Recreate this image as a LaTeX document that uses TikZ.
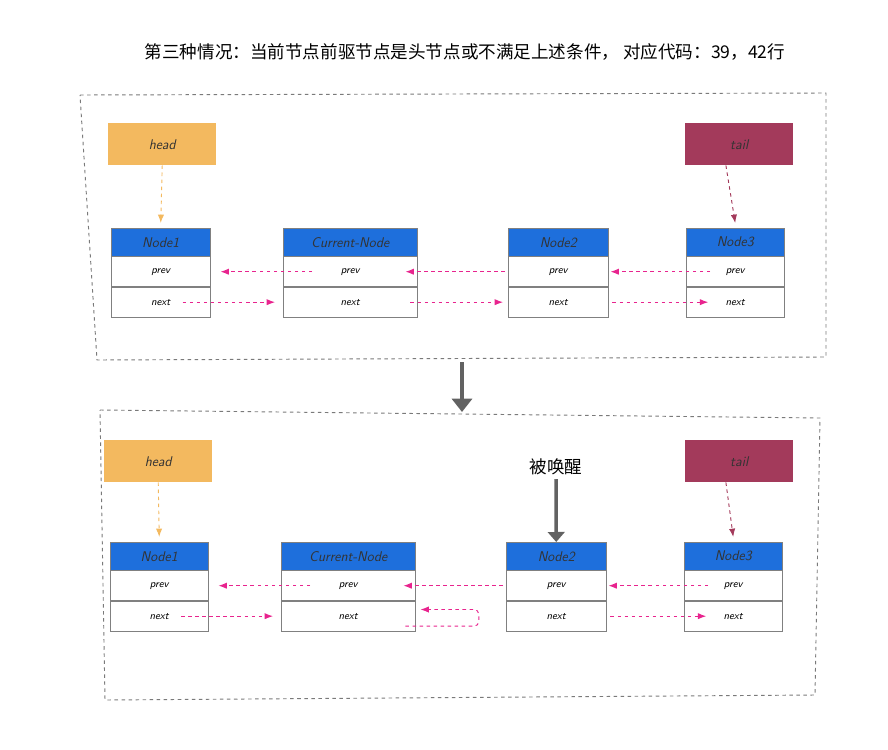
\documentclass[tikz,border=0pt]{standalone}
\usepackage{fontspec}
\newfontfamily\cjk{Noto Sans CJK SC}
\usetikzlibrary{arrows.meta, positioning}
\definecolor{hdrblue}{HTML}{1E6FDC}
\definecolor{headorange}{HTML}{F3B95F}
\definecolor{tailred}{HTML}{A33A5B}
\definecolor{linkpink}{HTML}{E8248E}
\definecolor{framegray}{HTML}{7A7A7A}

\tikzset{
  hdr/.style={draw=gray, fill=hdrblue, anchor=north west, inner sep=0pt,
    minimum height=0.84cm, font=\sffamily\itshape\large, text=black!80},
  cell/.style={draw=gray, fill=white, below=0pt of #1, inner sep=0pt,
    minimum height=0.9cm, font=\sffamily\itshape\small},
  ptr/.style={anchor=north west, inner sep=0pt, minimum width=3.24cm,
    minimum height=1.26cm, font=\sffamily\itshape\large, text=black!80},
  link/.style={linkpink, dashed, thick, -{Latex[length=2.5mm]}},
  frame/.style={framegray, dashed, thick}
}

\begin{document}
\begin{tikzpicture}[x=0.03cm, y=-0.03cm]
\useasboundingbox (0,0) rectangle (888,750);

% title
\node (title) at (465,52) {\cjk\fontsize{15}{18}\selectfont 第三种情况：当前节点前驱节点是头节点或不满足上述条件， 对应代码：39，42行};

% frames
\draw[frame] (80,95) -- (826,93) -- (826,357) -- (97,360) -- cycle;
\draw[frame] (100,410) -- (820,418) -- (815,695) -- (105,700) -- cycle;

% top list
\node[ptr, fill=headorange] (thead) at (108,123) {head};
\node[ptr, fill=tailred] (ttail) at (685,123) {tail};
\foreach \n/\x/\w/\t in {n1/111/99/Node1, cur/283/134/Current-Node, n2/508/100/Node2, n3/686/98/Node3} {
  \node[hdr, minimum width=\w*0.03cm] (t\n h) at (\x,228) {\t};
  \node[cell=t\n h, minimum width=\w*0.03cm] (t\n p) {prev};
  \node[cell=t\n p, minimum width=\w*0.03cm] (t\n x) {next};
}
\draw[headorange, dashed, thick, -{Latex[length=2.5mm]}] (thead.south) -- ([yshift=0.15cm]tn1h.north);
\draw[tailred, dashed, thick, -{Latex[length=2.5mm]}] ([xshift=-0.4cm]ttail.south) -- ([yshift=0.15cm]tn3h.north);
\draw[link] ([xshift=-1.14cm]tcurp.center) -- ([xshift=0.3cm]tn1p.east);
\draw[link] ([xshift=0.66cm]tn1x.center) -- ([xshift=-0.24cm]tcurx.west);
\draw[link] ([xshift=-0.09cm]tn2p.west) -- ([xshift=-0.36cm]tcurp.east);
\draw[link] ([xshift=-0.21cm]tcurx.east) -- ([xshift=-0.15cm]tn2x.west);
\draw[link] ([xshift=-0.75cm]tn3p.center) -- ([xshift=0.06cm]tn2p.east);
\draw[link] ([xshift=0.12cm]tn2x.east) -- ([xshift=-0.81cm]tn3x.center);

% transition
\draw[line width=3pt, framegray!80!black, -{Triangle[length=4mm, width=6mm]}] (462,362) -- (462,412);

% bottom list
\node[ptr, fill=headorange] (bhead) at (104,440) {head};
\node[ptr, fill=tailred] (btail) at (685,440) {tail};
\foreach \n/\x/\w/\t in {n1/110/98/Node1, cur/281/134/Current-Node, n2/506/100/Node2, n3/684/98/Node3} {
  \node[hdr, minimum width=\w*0.03cm] (b\n h) at (\x,542) {\t};
  \node[cell=b\n h, minimum width=\w*0.03cm] (b\n p) {prev};
  \node[cell=b\n p, minimum width=\w*0.03cm] (b\n x) {next};
}
\node[font=\cjk\fontsize{15}{18}\selectfont] (wake) at (556,467) {被唤醒};
\draw[line width=3pt, framegray!80!black, -{Triangle[length=3mm, width=5mm]}] (wake.south) -- (bn2h.north);
\draw[headorange, dashed, thick, -{Latex[length=2.5mm]}] (bhead.south) -- ([yshift=0.15cm]bn1h.north);
\draw[tailred, dashed, thick, -{Latex[length=2.5mm]}] ([xshift=-0.4cm]btail.south) -- ([yshift=0.15cm]bn3h.north);
\draw[link] ([xshift=-1.14cm]bcurp.center) -- ([xshift=0.3cm]bn1p.east);
\draw[link] ([xshift=0.66cm]bn1x.center) -- ([xshift=-0.24cm]bcurx.west);
\draw[link] ([xshift=-0.09cm]bn2p.west) -- ([xshift=-0.36cm]bcurp.east);
\draw[link, rounded corners=4pt] ([xshift=-0.3cm, yshift=-0.3cm]bcurx.east) -- ++(2.2cm,0) -- ++(0,0.5cm) -- ([xshift=0.15cm, yshift=0.2cm]bcurx.east);
\draw[link] ([xshift=-0.75cm]bn3p.center) -- ([xshift=0.06cm]bn2p.east);
\draw[link] ([xshift=0.12cm]bn2x.east) -- ([xshift=-0.81cm]bn3x.center);
\end{tikzpicture}
\end{document}
